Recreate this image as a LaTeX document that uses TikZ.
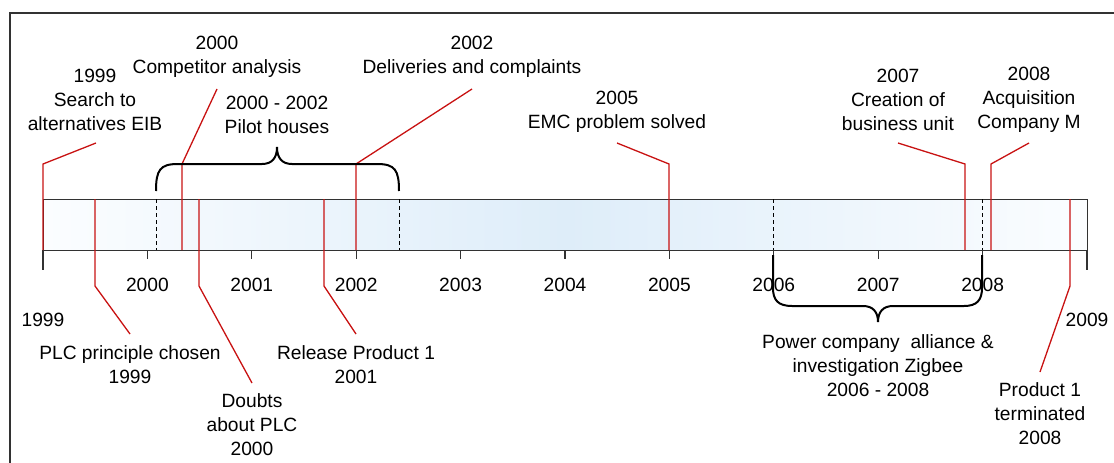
\documentclass[tikz,border=0pt]{standalone}
\usepackage{fontspec}
\setmainfont{Liberation Sans}
\definecolor{leadred}{RGB}{200,18,18}
\definecolor{framegray}{RGB}{50,50,50}
\definecolor{bandmid}{RGB}{222,237,249}
\definecolor{bandedge}{RGB}{251,253,255}
\begin{document}
\begin{tikzpicture}[x=1pt,y=-1pt,
  lbl/.style={align=center,font=\fontsize{19.2}{24}\selectfont,inner sep=0pt},
  leader/.style={draw=leadred,line width=1.3pt},
  bracepath/.style={draw=black,line width=2pt},
  yeartick/.style={draw=framegray,line width=1.2pt},
  guide/.style={draw=black,line width=1pt,dash pattern=on 4pt off 3pt},
]
\useasboundingbox (0,0) rectangle (1114,463);
\clip (0,0) rectangle (1114,463);

% outer frame
\draw[framegray,line width=1.5pt] (10,13) rectangle (1140,490);

% time band
\node (band) [anchor=north west, minimum width=1044pt, minimum height=51pt,
  inner sep=0pt, left color=bandedge, right color=bandedge, middle color=bandmid,
  draw=framegray, line width=1.2pt] at (43,199) {};

% dashed period limits inside the band
\foreach \x/\n in {156/ga,399/gb,773/gc,982/gd}{
  \coordinate (\n-top) at (\x,199);
  \coordinate (\n-bot) at (\x,250);
  \draw[guide] (\n-top) -- (\n-bot);
}

% year ticks and labels
\foreach \i in {1,...,9}{
  \pgfmathsetmacro{\xx}{43+\i*104.4}
  \pgfmathtruncatemacro{\yr}{1999+\i}
  \coordinate (t\i) at (\xx,250);
  \coordinate (te\i) at (\xx,259);
  \draw[yeartick] (t\i) -- (te\i);
  \node[lbl] (y\i) at (\xx,285) {\yr};
}
\coordinate (t0) at (43,250);
\coordinate (te0) at (43,270);
\draw[yeartick] (t0) -- (te0);
\node[lbl] (y0) at (43,320) {1999};
\coordinate (t10) at (1087,250);
\coordinate (te10) at (1087,270);
\draw[yeartick] (t10) -- (te10);
\node[lbl] (y10) at (1087,320) {2009};

% events above the band
\node[lbl] (eib) at (95,100) {1999\\Search to\\alternatives EIB};
\coordinate (eib-foot) at (43,250);
\coordinate (eib-knee) at (43,164);
\coordinate (eib-tip) at (96,143);
\draw[leader] (eib-foot) -- (eib-knee) -- (eib-tip);

\node[lbl] (comp) at (217,57) {2000\\Competitor analysis};
\coordinate (comp-foot) at (182,250);
\coordinate (comp-knee) at (182,164);
\coordinate (comp-tip) at (217,89);
\draw[leader] (comp-foot) -- (comp-knee) -- (comp-tip);

\node[lbl] (deliv) at (472,57) {2002\\Deliveries and complaints};
\coordinate (deliv-foot) at (356,250);
\coordinate (deliv-knee) at (356,164);
\coordinate (deliv-tip) at (472,89);
\draw[leader] (deliv-foot) -- (deliv-knee) -- (deliv-tip);

\node[lbl] (emc) at (617,112) {2005\\EMC problem solved};
\coordinate (emc-foot) at (669,250);
\coordinate (emc-knee) at (669,164);
\coordinate (emc-tip) at (617,143);
\draw[leader] (emc-foot) -- (emc-knee) -- (emc-tip);

\node[lbl] (unit) at (898,100) {2007\\Creation of\\business unit};
\coordinate (unit-foot) at (965,250);
\coordinate (unit-knee) at (965,164);
\coordinate (unit-tip) at (898,143);
\draw[leader] (unit-foot) -- (unit-knee) -- (unit-tip);

\node[lbl] (acq) at (1029,100) {2008\\Acquisition\\Company M};
\coordinate (acq-foot) at (991,250);
\coordinate (acq-knee) at (991,164);
\coordinate (acq-tip) at (1029,143);
\draw[leader] (acq-foot) -- (acq-knee) -- (acq-tip);

% events below the band
\node[lbl] (plc) at (130,365) {PLC principle chosen\\1999};
\coordinate (plc-foot) at (95,199);
\coordinate (plc-knee) at (95,286);
\coordinate (plc-tip) at (130,334);
\draw[leader] (plc-foot) -- (plc-knee) -- (plc-tip);

\node[lbl] (doubt) at (252,425) {Doubts\\about PLC\\2000};
\coordinate (doubt-foot) at (199,199);
\coordinate (doubt-knee) at (199,286);
\coordinate (doubt-tip) at (252,383);
\draw[leader] (doubt-foot) -- (doubt-knee) -- (doubt-tip);

\node[lbl] (rel) at (356,365) {Release Product 1\\2001};
\coordinate (rel-foot) at (324,199);
\coordinate (rel-knee) at (324,286);
\coordinate (rel-tip) at (356,334);
\draw[leader] (rel-foot) -- (rel-knee) -- (rel-tip);

\node[lbl] (term) at (1040,414) {Product 1\\terminated\\2008};
\coordinate (term-foot) at (1070,199);
\coordinate (term-knee) at (1070,286);
\coordinate (term-tip) at (1040,372);
\draw[leader] (term-foot) -- (term-knee) -- (term-tip);

% period brace above: pilot houses
\node[lbl] (pilot) at (277,115) {2000 - 2002\\Pilot houses};
\coordinate (pb-l) at (156,191);
\coordinate (pb-tip) at (277,147);
\coordinate (pb-r) at (399,191);
\draw[bracepath] (pb-l) .. controls (156,170) and (160,164) .. (178,164)
  -- (262,164) .. controls (272,164) and (277,158) .. (pb-tip)
  .. controls (277,158) and (282,164) .. (292,164)
  -- (377,164) .. controls (395,164) and (399,170) .. (pb-r);

% period brace below: power company alliance
\node[lbl] (power) at (878,366) {Power company~ alliance \&\\investigation Zigbee\\2006 - 2008};
\coordinate (qb-l) at (773,255);
\coordinate (qb-tip) at (878,322);
\coordinate (qb-r) at (982,255);
\draw[bracepath] (qb-l) -- (773,288) .. controls (773,300) and (778,306) .. (792,306)
  -- (863,306) .. controls (873,306) and (878,312) .. (qb-tip)
  .. controls (878,312) and (883,306) .. (893,306)
  -- (964,306) .. controls (977,306) and (982,300) .. (982,288) -- (qb-r);
\end{tikzpicture}
\end{document}
